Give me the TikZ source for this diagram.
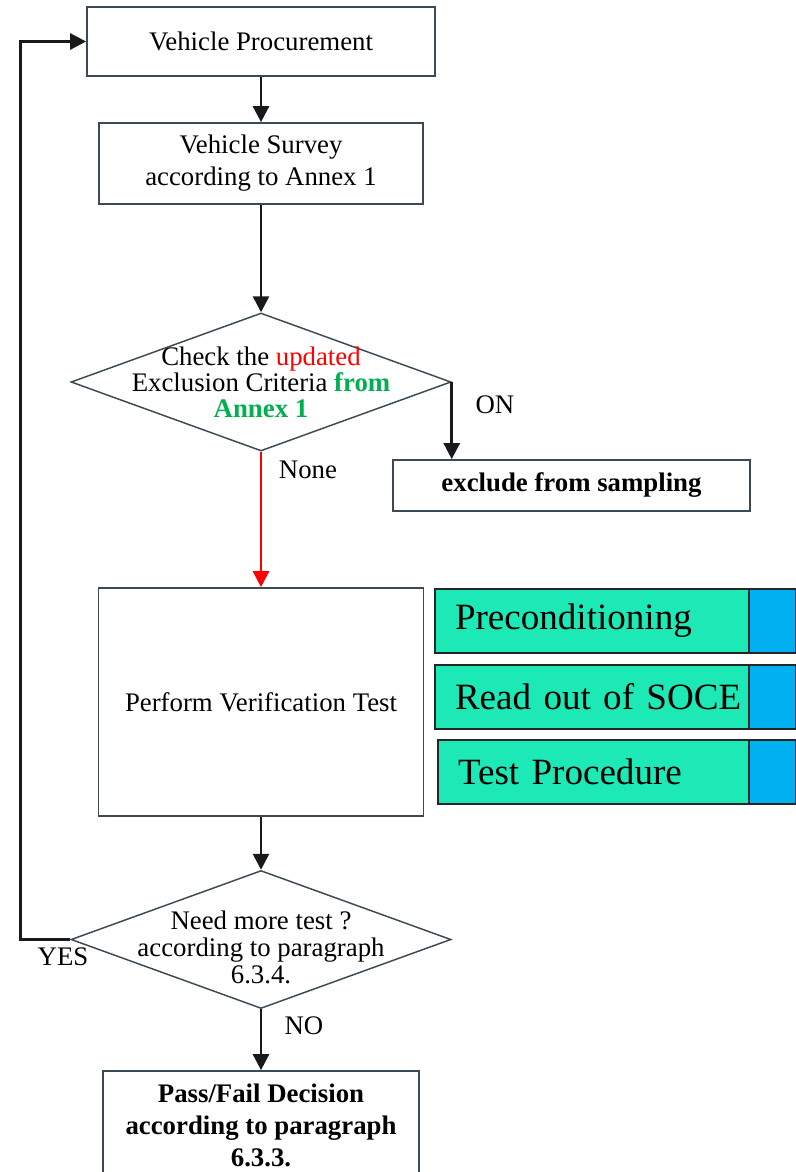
\documentclass[tikz,border=0pt]{standalone}
\usepackage{fontspec}
\setmainfont{Liberation Serif}
\usepackage{xcolor}
\usetikzlibrary{shapes.geometric,arrows.meta}
\definecolor{boxline}{HTML}{3C4A55}
\definecolor{tealfill}{HTML}{1DE9B6}
\definecolor{bluefill}{HTML}{00B0F0}
\definecolor{annexgreen}{HTML}{00B050}

\begin{document}
\begin{tikzpicture}[x=0.75pt,y=-0.75pt,
    font=\fontsize{20.1}{24}\selectfont,
    flowbox/.style={draw=boxline,line width=1.3pt,align=center,inner sep=0pt},
    decision/.style={draw=boxline,line width=1.1pt,diamond,inner sep=0pt,
        minimum width=285pt,minimum height=103.5pt},
    stepbar/.style={draw=black!85,line width=1pt,fill=tealfill,inner xsep=15pt,
        inner ysep=0pt,minimum height=48pt,
        font=\fontsize{27.8}{30}\selectfont},
    steptab/.style={draw=black!85,line width=1pt,fill=bluefill,inner sep=0pt,
        minimum width=35.25pt,minimum height=48pt},
    arr/.style={line width=2pt,draw=black!90,-{Triangle[length=12pt,width=12pt]}}]
    \useasboundingbox (0,0) rectangle (796,1172);
    % Boxes
    \node[flowbox,minimum width=261pt,minimum height=51.75pt] (procure) at (261,41.5) {Vehicle Procurement};
    \node[flowbox,minimum width=243pt,minimum height=60.75pt] (survey) at (261,163.5) {Vehicle Survey\\according to Annex 1};
    \node[decision,label={[align=center,font=\fontsize{20.1}{19.5}\selectfont]center:
        Check the \textcolor{red}{updated}\\
        Exclusion Criteria \textcolor{annexgreen}{\textbf{from}}\\
        \textcolor{annexgreen}{\textbf{Annex 1}}}] (check) at (261,382) {};
    \node[flowbox,minimum width=267.75pt,minimum height=38.25pt] (excl) at (571.5,485.5) {\textbf{exclude from sampling}};
    \node[flowbox,minimum width=243.75pt,minimum height=171pt] (perform) at (261,702) {Perform Verification Test};
    \node[decision,label={[align=center,yshift=-6pt,font=\fontsize{20.1}{20.5}\selectfont]center:
        Need more test ?\\
        according to paragraph\\
        6.3.4.}] (need) at (261,939.5) {};
    \node[flowbox,minimum width=237pt,minimum height=81pt] (pass) at (261,1125)
        {\textbf{Pass/Fail Decision}\\\textbf{according to paragraph}\\\textbf{6.3.3.}};
    % Test steps
    \node[stepbar,text width=205.5pt] (precond) at (592,621) {\mbox{Preconditioning}};
    \node[steptab] (precond-tab) at (772.5,621) {};
    \node[stepbar,text width=205.5pt] (readout) at (592,697) {\mbox{Read out of SOCE}};
    \node[steptab] (readout-tab) at (772.5,697) {};
    \node[stepbar,text width=203.25pt] (testproc) at (593.5,772) {\mbox{Test Procedure}};
    \node[steptab] (testproc-tab) at (772.5,772) {};
    % Connectors
    \draw[arr] (procure) -- (survey);
    \draw[arr] (survey) -- (check.north);
    \draw[arr] (check.east) -- (check.east |- excl.north);
    \draw[arr,draw=red] (check.south) -- (perform.north);
    \draw[arr] (perform) -- (need.north);
    \draw[arr] (need.south) -- (pass.north);
    \draw[arr] (need.west) -- ++(-50,0) |- (procure.west);
    % Labels
    \node (on) at (495,405) {ON};
    \node (none) at (308,470) {None};
    \node (yes) at (63,957) {YES};
    \node (no) at (304,1026) {NO};
\end{tikzpicture}
\end{document}
